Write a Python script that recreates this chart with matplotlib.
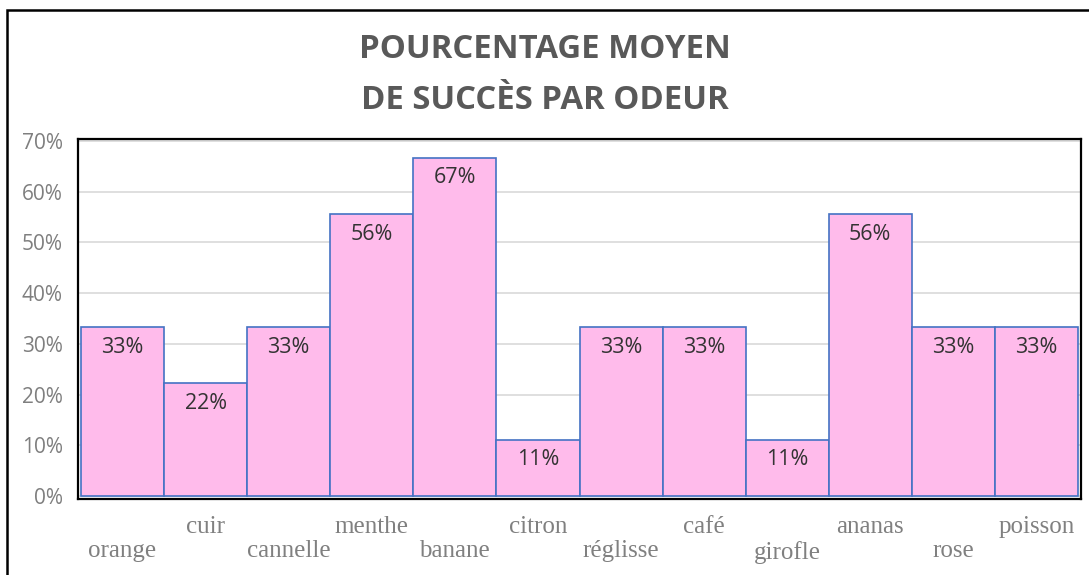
import matplotlib
matplotlib.use('Agg')
import matplotlib.pyplot as plt
from matplotlib.patches import Rectangle

odeurs = ['orange', 'cuir', 'cannelle', 'menthe', 'banane', 'citron',
          'réglisse', 'café', 'girofle', 'ananas', 'rose', 'poisson']
succes = [0.333, 0.222, 0.333, 0.556, 0.667, 0.111,
          0.333, 0.333, 0.111, 0.556, 0.333, 0.333]
yticks = [0, 0.1, 0.2, 0.3, 0.4, 0.5, 0.6, 0.7]

fig = plt.figure(figsize=(10.89, 5.75), dpi=100)
ax = fig.add_axes([78/1089, 1 - 499/575, 1003/1089, 360/575])

x = list(range(len(odeurs)))
bars = ax.bar(x, succes, width=1.0, color='#FFBBEB', edgecolor='#4472C4', linewidth=1.2, zorder=2)

for xi, v in zip(x, succes):
    ax.text(xi, v - 0.019, f'{v:.0%}', ha='center', va='top', fontsize=15.5,
            family='Open Sans', color='#333333', zorder=3)

ax.set_xlim(-0.536, 11.536)
ax.set_ylim(-0.006, 0.704)
ax.set_yticks(yticks)
ax.set_yticklabels([f'{t:.0%}' for t in yticks], family='Open Sans', fontsize=15, color='#7f7f7f')
ax.tick_params(axis='y', length=0, pad=11)
ax.grid(axis='y', color='#d9d9d9', linewidth=1.2, zorder=0)
ax.set_axisbelow(True)

labels = [('\n' + n) if i % 2 == 0 else n for i, n in enumerate(odeurs)]
ax.set_xticks(x)
ax.set_xticklabels(labels, family='Liberation Serif', fontsize=18, color='#808080')
for t in ax.get_xticklabels():
    t.set_linespacing(1.16)
ax.tick_params(axis='x', length=0, pad=12)

for s in ax.spines.values():
    s.set_color('black')
    s.set_linewidth(1.6)

fig.text(0.5, 1 - 75/575, 'POURCENTAGE MOYEN\nDE SUCCÈS PAR ODEUR', ha='center', va='center',
         fontsize=23.7, fontweight='bold', family='Open Sans', color='#595959', linespacing=1.73)

fig.patches.append(Rectangle((7/1089, -0.1), 1.2, 1 - 10/575 + 0.1, transform=fig.transFigure,
                             fill=False, edgecolor='black', linewidth=1.8))

fig.savefig('out.png', dpi=100, facecolor='white')
